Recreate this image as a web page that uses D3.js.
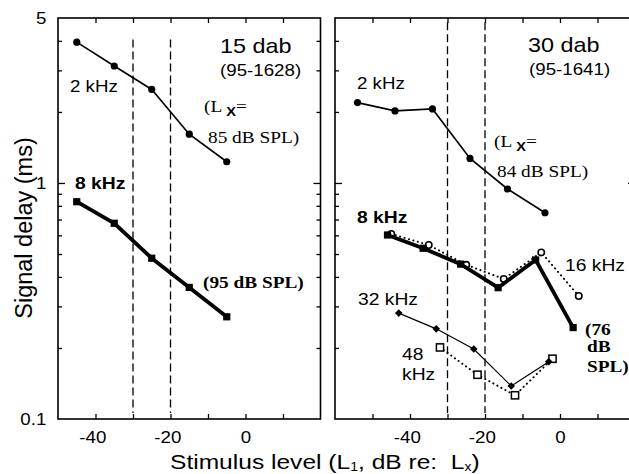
<!DOCTYPE html>
<html>
<head>
  <title>Signal delay vs stimulus level</title>
  <style>
    body { margin: 0; background: #fff; }
    svg { display: block; }
    text { white-space: pre; }
    .sans { font-family: "Liberation Sans", Arial, sans-serif; }
    .serif { font-family: "Liberation Serif", "Times New Roman", serif; }
    .frame { fill: none; stroke: #000; stroke-width: 1.6; }
    .axis path { display: none; }
    .axis line { stroke: #000; stroke-width: 1.3; }
    .axis text { font-family: "Liberation Sans", Arial, sans-serif; font-size: 16px; fill: #000; }
  </style>
</head>
<body>
  <div id="chart"></div>

  <script src="https://d3js.org/d3.v7.min.js"></script>
  <script>
    // values (level in dB re Lx, delay in ms)
    const lvl15_2k = [-45, -35, -25, -15, -5];
    const del15_2k = [3.95, 3.13, 2.49, 1.61, 1.23];
    const lvl15_8k = [-45, -35, -25, -15, -5];
    const del15_8k = [0.833, 0.675, 0.48, 0.361, 0.271];

    const lvl30_2k = [-54, -44, -34, -24, -14, -4];
    const del30_2k = [2.19, 2.02, 2.06, 1.27, 0.943, 0.748];
    const lvl30_8k = [-46, -36.5, -26.5, -16.5, -6.5, 3.5];
    const del30_8k = [0.602, 0.529, 0.453, 0.36, 0.472, 0.244];
    const lvl30_16k = [-45, -35, -25, -15, -5, 5];
    const del30_16k = [0.608, 0.546, 0.45, 0.392, 0.508, 0.332];
    const lvl30_32k = [-43, -33, -23, -13, -3];
    const del30_32k = [0.281, 0.241, 0.198, 0.138, 0.175];
    const lvl30_48k = [-32, -22, -12, -2];
    const del30_48k = [0.201, 0.154, 0.126, 0.18];

    const criterionLevels = [-30, -20];
    const xTickValues = [-60, -50, -40, -30, -20, -10, 0, 10, 20];
    const xTickLabels = [-40, -20, 0];
    const yMajor = [0.1, 1, 5];
    const yMinor = [0.2, 0.3, 0.4, 0.5, 0.6, 0.7, 0.8, 0.9, 2, 3, 4];

    const W = 629, H = 474;
    const yTop = 18, yBot = 419;
    const SX = 1.17; // the scanned figure is a bit wider than tall

    const svg = d3.select("#chart").append("svg")
      .attr("width", W).attr("height", H);

    const y = d3.scaleLog().domain([0.1, 5]).range([yBot, yTop]);

    const panels = [
      { x0: 58, x1: 320.5, domain: [-50, 20], ylabels: true, dashTop: 4.05 },
      { x0: 335, x1: 635, domain: [-60, 20], ylabels: false, dashTop: 4.8 }
    ];
    panels.forEach(p => {
      p.x = d3.scaleLinear().domain(p.domain).range([p.x0, p.x1]);
      p.g = svg.append("g");
    });

    function drawAxes(p) {
      const g = p.g;
      const ticks = xTickValues.filter(v => v > p.domain[0] && v < p.domain[1]);
      g.append("g").attr("class", "axis")
        .attr("transform", `translate(0,${yBot})`)
        .call(d3.axisBottom(p.x).tickValues(ticks).tickSize(-5).tickPadding(12.5)
          .tickFormat(d => xTickLabels.includes(d) ? d : ""))
        .selectAll("text")
        .attr("transform", `scale(${SX},1)`)
        .attr("dx", d => d < 0 ? "-0.17em" : 0);
      g.append("g").attr("class", "axis")
        .attr("transform", `translate(0,${yTop})`)
        .call(d3.axisTop(p.x).tickValues(ticks).tickSize(-5).tickFormat(""));

      // left / right log ticks
      [[d3.axisLeft, p.x0], [d3.axisRight, p.x1]].forEach(([ax, xp]) => {
        g.append("g").attr("class", "axis")
          .attr("transform", `translate(${xp},0)`)
          .call(ax(y).tickValues([1]).tickSize(-7).tickFormat(""));
        g.append("g").attr("class", "axis")
          .attr("transform", `translate(${xp},0)`)
          .call(ax(y).tickValues(yMinor).tickSize(-4).tickFormat(""));
      });
      if (p.ylabels) {
        g.append("g").attr("class", "axis")
          .attr("transform", `translate(${p.x0},0)`)
          .call(d3.axisLeft(y).tickValues(yMajor).tickSize(0).tickPadding(10)
            .tickFormat(d => d))
          .selectAll("text")
          .attr("transform", `scale(${SX},1)`);
      }
      g.append("rect").attr("class", "frame")
        .attr("x", p.x0).attr("y", yTop)
        .attr("width", p.x1 - p.x0).attr("height", yBot - yTop);

      g.selectAll(".crit").data(criterionLevels).enter().append("line")
        .attr("x1", d => p.x(d)).attr("x2", d => p.x(d))
        .attr("y1", y(p.dashTop)).attr("y2", y(0.106))
        .attr("stroke", "#000").attr("stroke-width", 1.3)
        .attr("stroke-dasharray", "8,4");
    }

    function series(p, xs, ys, opt) {
      const pts = xs.map((v, i) => [p.x(v), y(ys[i])]);
      p.g.append("path")
        .attr("d", d3.line()(pts))
        .attr("fill", "none").attr("stroke", "#000")
        .attr("stroke-width", opt.lw)
        .attr("stroke-dasharray", opt.dash || null)
        .attr("stroke-linecap", opt.dash ? "round" : "butt");
      const m = p.g.selectAll(null).data(pts).enter();
      if (opt.marker === "dot") {
        m.append("circle").attr("cx", d => d[0]).attr("cy", d => d[1])
          .attr("r", 3.6).attr("fill", "#000");
      } else if (opt.marker === "ring") {
        m.append("circle").attr("cx", d => d[0]).attr("cy", d => d[1])
          .attr("r", 3.2).attr("fill", "#fff").attr("stroke", "#000").attr("stroke-width", 1.6);
      } else if (opt.marker === "square") {
        m.append("rect").attr("x", d => d[0] - 3.6).attr("y", d => d[1] - 3.6)
          .attr("width", 7.2).attr("height", 7.2).attr("fill", "#000");
      } else if (opt.marker === "box") {
        m.append("rect").attr("x", d => d[0] - 3.6).attr("y", d => d[1] - 3.6)
          .attr("width", 7.2).attr("height", 7.2)
          .attr("fill", "#fff").attr("stroke", "#000").attr("stroke-width", 1.5);
      } else if (opt.marker === "diamond") {
        m.append("path").attr("d", d => `M${d[0]},${d[1] - 3.8}L${d[0] + 3.8},${d[1]}L${d[0]},${d[1] + 3.8}L${d[0] - 3.8},${d[1]}Z`)
          .attr("fill", "#000");
      }
    }

    function label(x, yy, txt, cls, size, weight) {
      return svg.append("text").attr("class", cls)
        .attr("transform", `translate(${x},${yy}) scale(${SX},1)`)
        .attr("font-size", size).attr("font-weight", weight || "normal")
        .text(txt);
    }

    function lxLabel(x, yy) {
      const t = svg.append("text").attr("class", "serif")
        .attr("transform", `translate(${x},${yy}) scale(${SX},1)`)
        .attr("font-size", 16.5);
      t.append("tspan").text("(L");
      t.append("tspan").attr("class", "sans").attr("font-size", 12.5).attr("font-weight", "bold")
        .attr("dy", 4).text(" X");
      t.append("tspan").attr("dy", -4).text("=");
    }

    panels.forEach(drawAxes);

    const [pL, pR] = panels;
    series(pL, lvl15_2k, del15_2k, { lw: 1.6, marker: "dot" });
    series(pL, lvl15_8k, del15_8k, { lw: 3.8, marker: "square" });

    series(pR, lvl30_16k, del30_16k, { lw: 2, dash: "0.1,4.5", marker: "ring" });
    series(pR, lvl30_48k, del30_48k, { lw: 2, dash: "0.1,4.5", marker: "box" });
    series(pR, lvl30_2k, del30_2k, { lw: 1.6, marker: "dot" });
    series(pR, lvl30_8k, del30_8k, { lw: 3.8, marker: "square" });
    series(pR, lvl30_32k, del30_32k, { lw: 1.2, marker: "diamond" });

    // left panel text
    label(220, 52.5, "15 dab", "sans", 20);
    label(220, 76, "(95-1628)", "sans", 16);
    label(70, 91.5, "2 kHz", "sans", 16);
    lxLabel(204, 112);
    label(208, 143, "85 dB SPL)", "serif", 16.5);
    label(75, 189, "8 kHz", "sans", 16.5, "bold");
    label(203, 288, "(95 dB SPL)", "serif", 16.5, "bold");

    // right panel text
    label(528, 51.5, "30 dab", "sans", 20);
    label(529, 74.5, "(95-1641)", "sans", 16);
    label(357, 89, "2 kHz", "sans", 16);
    lxLabel(494, 147);
    label(497, 177, "84 dB SPL)", "serif", 16.5);
    label(357, 222.5, "8 kHz", "sans", 16.5, "bold");
    label(565, 270.5, "16 kHz", "sans", 16.5);
    label(358, 305, "32 kHz", "sans", 16.5);
    label(402, 360, "48", "sans", 16.5);
    label(402, 380, "kHz", "sans", 16.5);
    label(585, 335, "(76", "serif", 16.5, "bold");
    label(587, 352, "dB", "serif", 16.5, "bold");
    label(587, 372, "SPL)", "serif", 16.5, "bold");

    // axis titles
    const xt = svg.append("text").attr("class", "sans").attr("font-size", 21)
      .attr("transform", `translate(170,469) scale(${SX},1)`);
    xt.append("tspan").text("Stimulus level (L");
    xt.append("tspan").attr("font-size", 12).attr("dy", 1.5).text("1");
    xt.append("tspan").attr("dy", -1.5).text(", dB re:  L");
    xt.append("tspan").attr("font-size", 12).attr("dy", 1.5).text("x");
    xt.append("tspan").attr("dy", -1.5).text(")");

    svg.append("text").attr("class", "sans").attr("font-size", 23.5)
      .attr("transform", "translate(32,228) rotate(-90)")
      .attr("text-anchor", "middle")
      .text("Signal delay (ms)");
  </script>
</body>
</html>
